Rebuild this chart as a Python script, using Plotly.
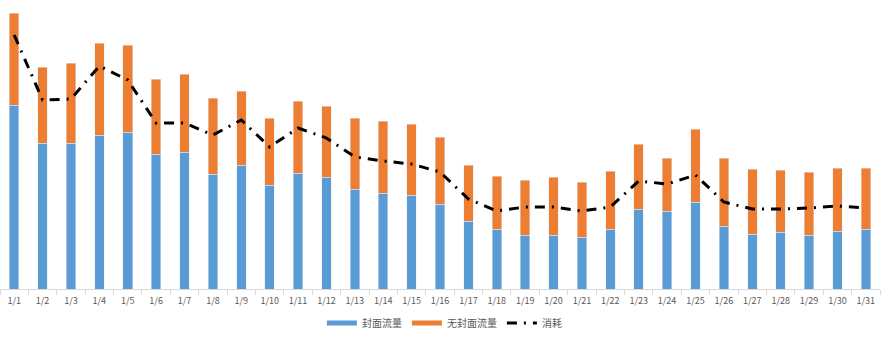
import plotly.graph_objects as go

dates = [f"1/{i}" for i in range(1, 32)]
cover = [184, 146, 146, 154, 157, 135, 137, 115, 124, 104, 116, 112, 100, 96, 94, 85,
         68, 60, 54, 54, 52, 60, 80, 78, 87, 63, 55, 57, 54, 58, 60]
no_cover = [92, 76, 80, 92, 87, 75, 78, 76, 74, 67, 72, 71, 71, 72, 71, 67,
            56, 53, 55, 58, 55, 58, 65, 53, 73, 68, 65, 62, 63, 63, 61]
consume = [254, 189, 190, 223, 209, 166, 166, 154, 169, 142, 161, 151, 132, 128, 125, 117,
           90, 78, 82, 82, 78, 82, 108, 105, 114, 87, 80, 80, 81, 83, 81]

BLUE = "#5B9BD5"
ORANGE = "#ED7D31"
GRAY = "#595959"
FONT = "Noto Sans CJK SC"

fig = go.Figure()
fig.add_trace(go.Bar(x=dates, y=cover, name="封面流量", marker_color=BLUE, showlegend=False))
fig.add_trace(go.Bar(x=dates, y=no_cover, name="无封面流量", marker_color=ORANGE, showlegend=False))
fig.add_trace(go.Scatter(x=dates, y=consume, name="消耗", mode="lines",
                         line=dict(color="black", width=3, dash="10px,7px,2px,7px"),
                         showlegend=False))
# legend entries
fig.add_trace(go.Scatter(x=[None], y=[None], name="封面流量", mode="lines",
                         line=dict(color=BLUE, width=5)))
fig.add_trace(go.Scatter(x=[None], y=[None], name="无封面流量", mode="lines",
                         line=dict(color=ORANGE, width=5)))
fig.add_trace(go.Scatter(x=[None], y=[None], name="消耗", mode="lines",
                         line=dict(color="black", width=3, dash="10px,7px,2px,7px")))

fig.update_layout(
    width=892, height=339,
    margin=dict(l=0, r=12, t=5, b=50),
    barmode="stack", bargap=0.665,
    plot_bgcolor="white", paper_bgcolor="white",
    font=dict(family=FONT, size=9, color=GRAY),
    legend=dict(orientation="h", x=0.505, xanchor="center", y=-0.12, yanchor="middle",
                font=dict(size=10, color=GRAY), itemwidth=30, traceorder="normal"),
    xaxis=dict(showline=True, linecolor="#d9d9d9", linewidth=1,
               ticks="outside", tickson="boundaries", ticklen=5, tickcolor="#d9d9d9",
               ticklabelstandoff=3,
               tickangle=0, tickfont=dict(size=9, color=GRAY), showgrid=False),
    yaxis=dict(range=[0, 284], showticklabels=False, showgrid=False, zeroline=False,
               showline=False),
)

fig.write_html("out.html")
